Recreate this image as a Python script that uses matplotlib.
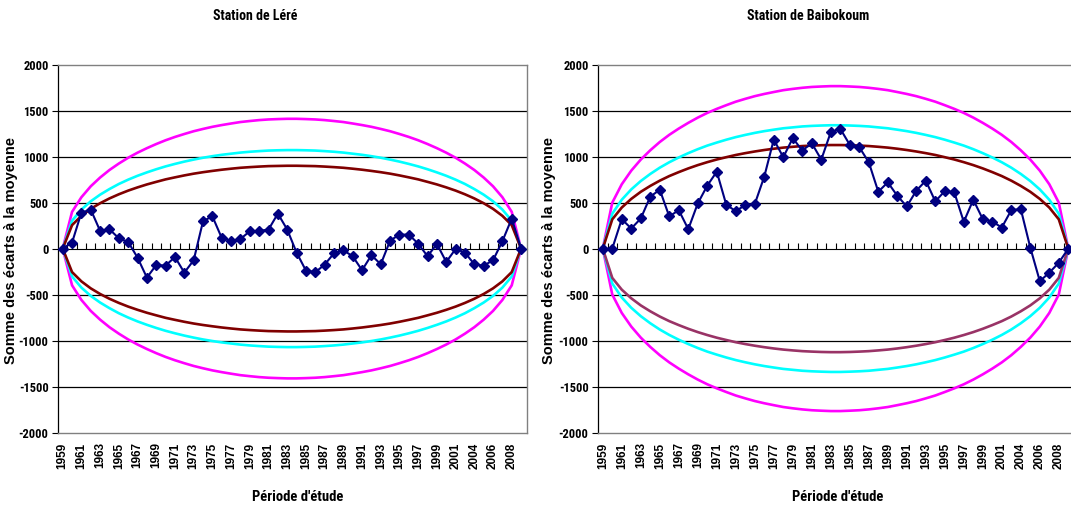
import os

import matplotlib
matplotlib.use("Agg")
import matplotlib.pyplot as plt
from matplotlib import font_manager
from matplotlib.ticker import FixedLocator

# Years on the category axis (one year missing after 2001)
years = list(range(1959, 2002)) + list(range(2003, 2010))

# Cumulative sum of deviations from the mean
lere = [0, 65, 391, 424, 192, 210, 112, 72, -98, -315,
        -178, -185, -91, -261, -127, 297, 351, 116, 83, 105,
        188, 192, 207, 380, 207, -43, -239, -257, -174, -51,
        -18, -83, -235, -72, -170, 87, 152, 152, 54, -83,
        51, -145, -4, -43, -170, -185, -127, 80, 326, 0]

baibokoum = [0, 0, 320, 218, 327, 564, 640, 349, 418, 211,
             491, 684, 836, 476, 407, 473, 484, 782, 1185, 993,
             1200, 1065, 1145, 967, 1265, 1302, 1127, 1102, 938, 618,
             720, 574, 458, 629, 738, 513, 625, 611, 291, 531,
             320, 294, 229, 418, 429, 11, -353, -262, -153, 0]

# Upper halves of the Buishand ellipses (lower halves are the mirror image)
lere_ell_99 = [0, 399, 558, 677, 772, 854, 924, 987, 1042, 1091,
               1136, 1177, 1213, 1245, 1275, 1300, 1323, 1342, 1359, 1375,
               1386, 1396, 1403, 1407, 1410, 1410, 1407, 1403, 1396, 1386,
               1375, 1359, 1342, 1323, 1300, 1275, 1245, 1213, 1177, 1136,
               1091, 1042, 987, 924, 854, 772, 677, 558, 399, 0]
lere_ell_95 = [0, 303, 424, 514, 586, 647, 702, 749, 791, 828,
               862, 893, 920, 945, 967, 987, 1004, 1019, 1031, 1043,
               1052, 1059, 1065, 1068, 1070, 1070, 1068, 1065, 1059, 1052,
               1043, 1031, 1019, 1004, 987, 967, 945, 920, 893, 862,
               828, 791, 749, 702, 647, 586, 514, 424, 303, 0]
lere_ell_90 = [0, 255, 356, 432, 493, 545, 590, 630, 665, 697,
               725, 752, 774, 795, 814, 830, 844, 857, 868, 878,
               885, 891, 896, 898, 900, 900, 898, 896, 891, 885,
               878, 868, 857, 844, 830, 814, 795, 774, 752, 725,
               697, 665, 630, 590, 545, 493, 432, 356, 255, 0]

baib_ell_99 = [0, 499, 699, 847, 967, 1068, 1158, 1236, 1304, 1366,
               1423, 1474, 1518, 1558, 1596, 1627, 1656, 1680, 1701, 1721,
               1735, 1747, 1756, 1761, 1765, 1765, 1761, 1756, 1747, 1735,
               1721, 1701, 1680, 1656, 1627, 1596, 1558, 1518, 1474, 1423,
               1366, 1304, 1236, 1158, 1068, 967, 847, 699, 499, 0]
baib_ell_95 = [0, 379, 531, 643, 734, 811, 879, 938, 990, 1037,
               1080, 1119, 1152, 1183, 1211, 1235, 1257, 1276, 1292, 1307,
               1317, 1327, 1333, 1337, 1340, 1340, 1337, 1333, 1327, 1317,
               1307, 1292, 1276, 1257, 1235, 1211, 1183, 1152, 1119, 1080,
               1037, 990, 938, 879, 811, 734, 643, 531, 379, 0]
baib_ell_90 = [0, 318, 446, 540, 617, 681, 738, 788, 831, 871,
               907, 939, 968, 993, 1017, 1037, 1055, 1071, 1085, 1097,
               1106, 1114, 1119, 1123, 1125, 1125, 1123, 1119, 1114, 1106,
               1097, 1085, 1071, 1055, 1037, 1017, 993, 968, 939, 907,
               871, 831, 788, 738, 681, 617, 540, 446, 318, 0]

y_ticks = [-2000, -1500, -1000, -500, 0, 500, 1000, 1500, 2000]


def find_narrow_bold():
    # look for an Arial-Narrow-like bold face, else None
    wanted = ["liberationsansnarrow-bold.", "robotocondensed-bold.",
              "notosans-condensedbold.", "opensans_condensed-bold.",
              "dejavusanscondensed-bold."]
    files = [f.fname for f in font_manager.fontManager.ttflist]
    for w in wanted:
        for fn in files:
            if os.path.basename(fn).lower().startswith(w):
                return fn
    return None


NARROW_FILE = find_narrow_bold()


def narrow(size):
    if NARROW_FILE:
        return font_manager.FontProperties(fname=NARROW_FILE, size=size)
    return font_manager.FontProperties(family=["Liberation Sans", "DejaVu Sans"],
                                       weight="bold", size=size * 0.9)


def wide(size):
    return font_manager.FontProperties(family=["Liberation Sans", "DejaVu Sans"],
                                       weight="bold", size=size)


def draw_panel(ax, series, ellipses, lower_colors):
    x = list(range(len(series)))
    for (upper, color), low_color in zip(ellipses, lower_colors):
        ax.plot(x, upper, color=color, lw=1.9, zorder=2)
        ax.plot(x, [-v for v in upper], color=low_color, lw=1.9, zorder=2)
    ax.plot(x, series, color="#000080", lw=1.5, marker="D", ms=5.5,
            mec="#000080", mfc="#000080", zorder=4)

    ax.set_xlim(-0.47, 49.6)
    ax.set_ylim(-2000, 2000)
    ax.set_yticks(y_ticks)
    ax.set_yticklabels([str(v) for v in y_ticks], fontproperties=narrow(9))
    ax.tick_params(axis="y", direction="out", length=4, width=0.8,
                   pad=3, color="black")
    for v in y_ticks[1:-1]:
        if v != 0:
            ax.axhline(v, color="black", lw=0.9, zorder=1)

    ax.set_xticks(x[::2])
    ax.set_xticklabels([str(y) for y in years[::2]], rotation=90,
                       fontproperties=wide(8.5))
    ax.tick_params(axis="x", length=0, pad=7)

    for side in ("top", "right", "bottom"):
        ax.spines[side].set_color("#808080")
        ax.spines[side].set_linewidth(1.0)
    ax.spines["left"].set_color("black")
    ax.spines["left"].set_linewidth(0.9)

    # category axis drawn through zero
    zero = ax.secondary_xaxis(0.5)
    zero.xaxis.set_major_locator(FixedLocator([k + 0.5 for k in x[:-1]]))
    zero.set_xticklabels([])
    zero.tick_params(direction="out", length=4, width=0.8, color="black")
    zero.spines["bottom"].set_color("black")
    zero.spines["bottom"].set_linewidth(1.0)


fig = plt.figure(figsize=(10.71, 5.12), dpi=100)
ax1 = fig.add_axes([58.3 / 1071, 1 - 432.7 / 512, 468.4 / 1071, 368.2 / 512])
ax2 = fig.add_axes([598.3 / 1071, 1 - 432.7 / 512, 475.7 / 1071, 368.2 / 512])

draw_panel(ax1, lere,
           [(lere_ell_99, "#FF00FF"), (lere_ell_95, "#00FFFF"), (lere_ell_90, "#800000")],
           ["#FF00FF", "#00FFFF", "#800000"])
draw_panel(ax2, baibokoum,
           [(baib_ell_99, "#FF00FF"), (baib_ell_95, "#00FFFF"), (baib_ell_90, "#800000")],
           ["#FF00FF", "#00FFFF", "#993366"])

fig.text(255 / 1071, 1 - 16 / 512, "Station de Léré", ha="center", va="center",
         fontproperties=narrow(10))
fig.text(808 / 1071, 1 - 16 / 512, "Station de Baibokoum", ha="center", va="center",
         fontproperties=narrow(10))

fig.text(297.5 / 1071, 1 - 497 / 512, "Période d'étude", ha="center", va="center",
         fontproperties=narrow(10.5))
fig.text(837.5 / 1071, 1 - 497 / 512, "Période d'étude", ha="center", va="center",
         fontproperties=narrow(10.5))

fig.text(11 / 1071, 1 - 250 / 512, "Somme des écarts à la moyenne", rotation=90,
         ha="center", va="center", fontproperties=wide(10.5))
fig.text(549 / 1071, 1 - 250 / 512, "Somme des écarts à la moyenne", rotation=90,
         ha="center", va="center", fontproperties=wide(10.5))

fig.savefig("out.png", dpi=100)
